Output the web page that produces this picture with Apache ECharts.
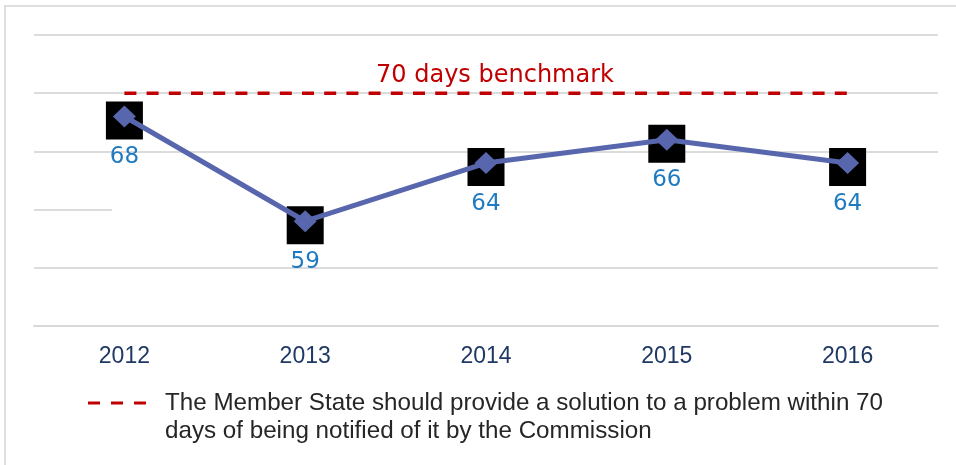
<!DOCTYPE html>
<html>
<head>
<meta charset="utf-8">
<script src="https://cdn.jsdelivr.net/npm/echarts@6/dist/echarts.min.js"></script>
<style>
  html, body { margin: 0; padding: 0; background: #fff; }
  #chart_container { width: 956px; height: 465px; }
</style>
</head>
<body>
<div id="chart_container"></div>
<script>
var years = ['2012', '2013', '2014', '2015', '2016'];
var daysValues = [68, 59, 64, 66, 64];
var benchmarkValues = [70, 70, 70, 70, 70];
var benchmarkLabel = '70 days benchmark';
var benchmarkName = 'The Member State should provide a solution to a problem within 70\ndays of being notified of it by the Commission';

var dom = document.getElementById("chart_container");
var myChart = echarts.init(dom);
var option = null;

var benchData = benchmarkValues.map(function (v, i) {
    if (i === 2) {
        return { value: v, label: { show: true } };
    }
    return v;
});

option = {
    animation: false,
    grid: {
        left: 34,
        right: 18,
        top: 35,
        bottom: 139
    },
    legend: {
        data: [benchmarkName],
        left: 83,
        top: 356,
        itemWidth: 58,
        itemHeight: 3,
        icon: 'path://M0,0h12v3h-12z M23,0h12v3h-12z M46,0h12v3h-12z',
        // empty first line so the icon sits level with the first text line
        formatter: function (name) { return '\n' + name; },
        textStyle: {
            fontFamily: 'Liberation Sans',
            fontSize: 24.2,
            color: '#262626',
            lineHeight: 28,
            padding: [0, 0, 0, 14]
        }
    },
    xAxis: {
        type: 'category',
        data: years,
        boundaryGap: true,
        axisLine: { lineStyle: { color: '#d9d9d9', width: 2 } },
        axisTick: { show: false },
        axisLabel: {
            fontFamily: 'Liberation Sans',
            fontSize: 23,
            color: '#1f3864',
            margin: 19
        }
    },
    yAxis: {
        type: 'value',
        min: 50,
        max: 75,
        interval: 5,
        axisLine: { show: false },
        axisTick: { show: false },
        axisLabel: { show: false },
        splitLine: { lineStyle: { color: '#dcdcdc', width: 2 } }
    },
    graphic: [
        {   // outer frame of the picture (only top / left visible)
            type: 'rect',
            z: 0,
            shape: { x: 5, y: 6, width: 1200, height: 1200 },
            style: { fill: 'none', stroke: '#dedede', lineWidth: 2 }
        },
        {   // the 60 gridline is broken after the first stretch
            type: 'rect',
            z: 1,
            shape: { x: 112, y: 207, width: 830, height: 4 },
            style: { fill: '#fff' }
        }
    ],
    series: [
        {
            name: benchmarkName,
            type: 'line',
            data: benchData,
            symbol: 'circle',
            symbolSize: 0,
            showSymbol: true,
            silent: true,
            lineStyle: { color: '#c00000', width: 3.5, type: [12, 10.2] },
            itemStyle: { color: '#c00000' },
            label: {
                show: false,
                position: 'top',
                distance: 5,
                offset: [9, 0],
                formatter: benchmarkLabel,
                fontFamily: 'DejaVu Sans',
                fontSize: 24,
                color: '#c00000'
            },
            z: 3
        },
        {   // black boxes behind the markers
            name: 'box',
            type: 'line',
            data: daysValues,
            symbol: 'rect',
            symbolSize: [37, 38],
            symbolOffset: [0, 4],
            lineStyle: { width: 0, opacity: 0 },
            itemStyle: { color: '#000' },
            z: 2
        },
        {
            name: 'days',
            type: 'line',
            data: daysValues,
            symbol: 'diamond',
            symbolSize: [23, 22],
            lineStyle: { color: '#5867ad', width: 5 },
            itemStyle: { color: '#5867ad' },
            label: {
                show: true,
                position: 'bottom',
                distance: 18,
                fontFamily: 'DejaVu Sans',
                fontSize: 23,
                color: '#1f7bc1'
            },
            z: 4
        }
    ]
};

if (option && typeof option === "object") {
    myChart.setOption(option, true);
}
</script>
</body>
</html>
